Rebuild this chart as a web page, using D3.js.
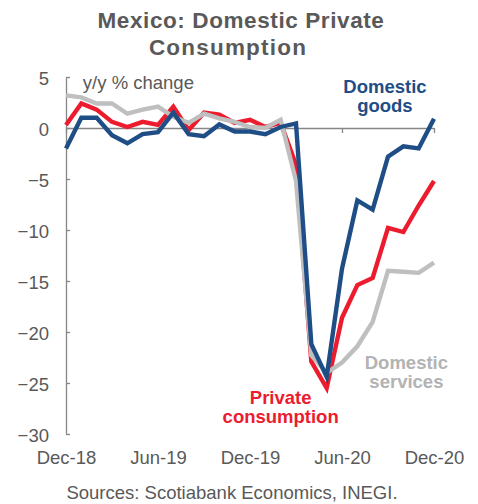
<!DOCTYPE html>
<html lang="en">
<head>
<meta charset="UTF-8">
<title>Mexico: Domestic Private Consumption</title>
<script src="https://d3js.org/d3.v7.min.js"></script>
<style>
  body { margin: 0; background: #fff; }
  svg text { font-family: "Liberation Sans", Arial, sans-serif; }
  .axis text { fill: #595959; font-size: 18.5px; }
  .axis path, .axis line { stroke: #868686; stroke-width: 1.3px; }
</style>
</head>
<body>
<svg id="chart" width="478" height="504"></svg>
<script>
// monthly, Dec-18 .. Dec-20
const months = ["Dec-18","Jan-19","Feb-19","Mar-19","Apr-19","May-19","Jun-19","Jul-19","Aug-19","Sep-19","Oct-19","Nov-19",
                "Dec-19","Jan-20","Feb-20","Mar-20","Apr-20","May-20","Jun-20","Jul-20","Aug-20","Sep-20","Oct-20","Nov-20","Dec-20"];
const privateConsumption = [0.3, 2.4, 1.8, 0.6, 0.1, 0.6, 0.3, 2.1, -0.2, 1.5, 1.3, 0.5,
                            0.8, 0.1, 0.5, -3.6, -22.9, -25.5, -18.6, -15.4, -14.7, -9.8, -10.2, -7.6, -5.2];
const domesticGoods = [-2.0, 1.0, 1.0, -0.7, -1.5, -0.6, -0.4, 1.5, -0.6, -0.8, 0.35, -0.35,
                       -0.35, -0.6, 0.1, 0.45, -21.2, -24.4, -13.8, -7.1, -8.0, -2.8, -1.8, -2.0, 0.9];
const domesticServices = [3.2, 3.0, 2.4, 2.4, 1.4, 1.8, 2.1, 1.1, 0.5, 1.4, 0.95, 0.6,
                          0.1, 0.0, 0.8, -5.2, -22.3, -24.0, -23.0, -21.4, -19.0, -14.0, -14.1, -14.2, -13.2];
const yTicks = [5, 0, -5, -10, -15, -20, -25, -30];
const xTickIdx = [0, 6, 12, 18, 24];

const svg = d3.select("#chart");
const x = d3.scaleLinear().domain([0, months.length - 1]).range([66, 434]);
const y = d3.scaleLinear().domain([-30, 5]).range([434, 77]);

// title
const title = svg.append("g").attr("fill", "#595959").attr("font-weight", "bold")
  .attr("font-size", "22.5px").attr("text-anchor", "middle");
title.append("text").attr("x", 241).attr("y", 28).attr("letter-spacing", "0.6px").text("Mexico: Domestic Private");
title.append("text").attr("x", 228).attr("y", 55).attr("letter-spacing", "1.2px").text("Consumption");

// y axis, ticks inside
svg.append("g").attr("class", "axis")
  .attr("transform", `translate(${x(0)},0)`)
  .call(d3.axisLeft(y).tickValues(yTicks).tickSizeInner(-4).tickSizeOuter(0).tickPadding(17))
  .call(g => g.selectAll("text").attr("dy", "0.4em"));

// zero line with 6-month ticks
svg.append("g").attr("class", "axis")
  .attr("transform", `translate(0,${y(0)})`)
  .call(d3.axisBottom(x).tickValues(xTickIdx).tickSize(5).tickSizeOuter(0).tickFormat(""));

// month labels under the plot
svg.append("g").attr("class", "axis")
  .attr("transform", `translate(0,${y(-30)})`)
  .call(d3.axisBottom(x).tickValues(xTickIdx).tickSize(0).tickPadding(17).tickFormat(i => months[i]))
  .call(g => g.select(".domain").remove());

svg.append("text").attr("x", x(1.1)).attr("y", y(3.8))
  .attr("fill", "#595959").attr("font-size", "18.5px").text("y/y % change");

// lines
const line = d3.line().x((d, i) => x(i)).y(d => y(d));
const series = [
  { values: privateConsumption, color: "#ec1c2e" },
  { values: domesticServices, color: "#bfbfbf" },
  { values: domesticGoods, color: "#1f4e86" }
];
svg.append("g").selectAll("path").data(series).join("path")
  .attr("d", d => line(d.values))
  .attr("fill", "none")
  .attr("stroke", d => d.color)
  .attr("stroke-width", 4.4)
  .attr("stroke-linejoin", "miter");

// series labels
const labels = [
  { lines: ["Domestic", "goods"], color: "#1f4e86", xi: 20.8, yv: 3.4 },
  { lines: ["Private", "consumption"], color: "#ec1c2e", xi: 14.0, yv: -27.1 },
  { lines: ["Domestic", "services"], color: "#b3b3b3", xi: 22.2, yv: -23.6 }
];
labels.forEach(l => {
  const t = svg.append("text").attr("text-anchor", "middle").attr("font-weight", "bold")
    .attr("font-size", "18.5px").attr("fill", l.color);
  l.lines.forEach((s, k) => {
    t.append("tspan").attr("x", x(l.xi)).attr("y", y(l.yv) + k * 19).text(s);
  });
});

// source
svg.append("text").attr("x", 232).attr("y", 499).attr("text-anchor", "middle")
  .attr("fill", "#595959").attr("font-size", "18.5px").text("Sources: Scotiabank Economics, INEGI.");
</script>
</body>
</html>
